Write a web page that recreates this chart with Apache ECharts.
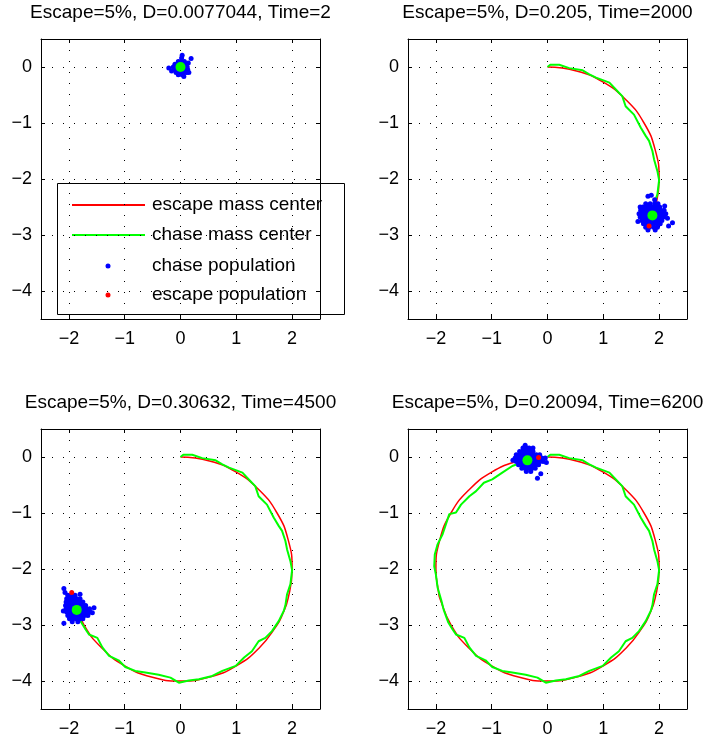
<!DOCTYPE html>
<html>
<head>
<meta charset="utf-8">
<script src="https://cdn.jsdelivr.net/npm/echarts@6/dist/echarts.min.js"></script>
<style>
html, body { margin: 0; padding: 0; background: #fff; }
#main { width: 710px; height: 741px; }
</style>
</head>
<body>
<div id="main"></div>
<script>
//子图标题
var titles = [
    'Escape=5%, D=0.0077044, Time=2',
    'Escape=5%, D=0.205, Time=2000',
    'Escape=5%, D=0.30632, Time=4500',
    'Escape=5%, D=0.20094, Time=6200'
];
var xTicks = [-2, -1, 0, 1, 2];
var yTicks = [-4, -3, -2, -1, 0];

//escape mass center 轨迹（红线）
var escapePath = [
    [0, 0], [0.52, -0.07], [1.0, -0.27], [1.41, -0.59], [1.73, -1.0], [1.93, -1.48],
    [2.0, -2.0], [1.93, -2.52], [1.82, -2.83], [1.73, -3.0], [1.41, -3.41], [1.0, -3.73],
    [0.52, -3.93], [0, -4.0], [-0.52, -3.93], [-1.0, -3.73], [-1.41, -3.41], [-1.73, -3.0],
    [-1.93, -2.52], [-1.95, -2.43], [-2.0, -2.0], [-1.93, -1.48], [-1.73, -1.0], [-1.41, -0.59],
    [-1.0, -0.27], [-0.52, -0.07], [-0.17, -0.01]
];
var escapeEnd = [1, 9, 20, 27];

//chase mass center 轨迹（绿线）
var chasePath = [
    [0, 0], [0.05, 0.04], [0.21, 0.04], [0.39, -0.02], [0.63, -0.06], [0.75, -0.13],
    [0.87, -0.19], [1.11, -0.28], [1.28, -0.46], [1.34, -0.52], [1.40, -0.70], [1.55, -0.85],
    [1.67, -1.08], [1.76, -1.23], [1.82, -1.32], [1.88, -1.50], [1.91, -1.65], [1.97, -1.86],
    [2.00, -2.02], [1.97, -2.27], [1.91, -2.45], [1.88, -2.65],
    [1.85, -2.75], [1.76, -2.93], [1.64, -3.11], [1.52, -3.23], [1.40, -3.29], [1.28, -3.47],
    [1.14, -3.58], [0.99, -3.73], [0.75, -3.82], [0.57, -3.91], [0.33, -3.97], [0.15, -3.99],
    [-0.03, -4.03], [-0.18, -3.94], [-0.39, -3.89], [-0.63, -3.85], [-0.81, -3.82], [-0.99, -3.75],
    [-1.11, -3.63], [-1.28, -3.55], [-1.40, -3.40], [-1.49, -3.23], [-1.64, -3.17], [-1.70, -3.08],
    [-1.78, -2.95], [-1.86, -2.73],
    [-1.90, -2.57], [-1.97, -2.33], [-2.00, -2.10], [-2.03, -1.95], [-2.02, -1.74], [-1.97, -1.56],
    [-1.88, -1.38], [-1.82, -1.20], [-1.76, -1.02], [-1.64, -0.99], [-1.55, -0.85], [-1.40, -0.70],
    [-1.28, -0.61], [-1.14, -0.46], [-0.99, -0.40], [-0.81, -0.28], [-0.63, -0.16], [-0.36, -0.06]
];
var chaseEnd = [1, 22, 48, 66];

//chase population（蓝点）
var chasePop1 = [
    [-0.04, 0.10], [0.02, 0.10], [0.07, 0.10],
    [-0.10, 0.05], [-0.05, 0.05], [0, 0.05], [0.05, 0.05], [0.10, 0.05],
    [-0.13, 0], [-0.08, 0], [-0.03, 0], [0.02, 0], [0.07, 0], [0.12, 0],
    [-0.11, -0.05], [-0.06, -0.05], [-0.01, -0.05], [0.04, -0.05], [0.09, -0.05], [0.13, -0.05],
    [-0.08, -0.10], [-0.03, -0.10], [0.02, -0.10], [0.07, -0.10], [0.11, -0.10],
    [-0.04, -0.14], [0.03, -0.14],
    [0.02, 0.16], [0.03, 0.21], [0.19, 0.15], [-0.21, -0.02], [0.14, 0.07],
    [-0.16, -0.07], [0.06, -0.17], [0.15, -0.10]
];
var chasePop2 = [
    [1.76, -2.44], [1.84, -2.44], [1.92, -2.44], [1.98, -2.44],
    [1.71, -2.50], [1.77, -2.50], [1.83, -2.50], [1.89, -2.50], [1.95, -2.50], [2.01, -2.50],
    [1.67, -2.56], [1.73, -2.56], [1.79, -2.56], [1.85, -2.56], [1.91, -2.56], [1.97, -2.56], [2.03, -2.56], [2.09, -2.56],
    [1.64, -2.62], [1.70, -2.62], [1.76, -2.62], [1.82, -2.62], [1.88, -2.62], [1.94, -2.62], [2.00, -2.62], [2.06, -2.62], [2.12, -2.62],
    [1.66, -2.68], [1.72, -2.68], [1.78, -2.68], [1.84, -2.68], [1.90, -2.68], [1.96, -2.68], [2.02, -2.68], [2.08, -2.68],
    [1.69, -2.74], [1.75, -2.74], [1.81, -2.74], [1.87, -2.74], [1.93, -2.74], [1.99, -2.74], [2.05, -2.74],
    [1.72, -2.80], [1.78, -2.80], [1.84, -2.80], [1.90, -2.80], [1.96, -2.80], [2.02, -2.80],
    [1.76, -2.86], [1.82, -2.86], [1.90, -2.86], [1.97, -2.86],
    [1.80, -2.91], [1.93, -2.91],
    [1.80, -2.31], [1.86, -2.29], [2.17, -2.84], [2.24, -2.78], [2.15, -2.70],
    [1.62, -2.76], [1.66, -2.50], [1.92, -2.37], [2.10, -2.48]
];
var chasePop3 = [
    [-2.02, -2.47], [-1.96, -2.47], [-1.89, -2.47],
    [-2.04, -2.53], [-1.98, -2.53], [-1.92, -2.53], [-1.86, -2.53], [-1.80, -2.53],
    [-2.05, -2.59], [-1.99, -2.59], [-1.93, -2.59], [-1.87, -2.59], [-1.81, -2.59], [-1.75, -2.59],
    [-2.06, -2.65], [-2.00, -2.65], [-1.94, -2.65], [-1.88, -2.65], [-1.82, -2.65], [-1.76, -2.65], [-1.70, -2.65],
    [-2.05, -2.71], [-1.99, -2.71], [-1.93, -2.71], [-1.87, -2.71], [-1.81, -2.71], [-1.75, -2.71], [-1.69, -2.71], [-1.63, -2.71],
    [-2.04, -2.77], [-1.98, -2.77], [-1.92, -2.77], [-1.86, -2.77], [-1.80, -2.77], [-1.74, -2.77], [-1.68, -2.77], [-1.62, -2.77],
    [-2.02, -2.83], [-1.96, -2.83], [-1.90, -2.83], [-1.84, -2.83], [-1.78, -2.83], [-1.72, -2.83], [-1.66, -2.83],
    [-1.99, -2.89], [-1.93, -2.89], [-1.87, -2.89], [-1.81, -2.89], [-1.75, -2.89],
    [-1.94, -2.94], [-1.84, -2.94],
    [-2.09, -2.35], [-2.07, -2.42], [-1.55, -2.69], [-2.09, -2.97], [-1.80, -2.45],
    [-1.58, -2.78], [-2.10, -2.75]
];
var chasePop4 = [
    [-0.44, 0.16], [-0.38, 0.16], [-0.33, 0.16],
    [-0.50, 0.10], [-0.44, 0.10], [-0.38, 0.10], [-0.32, 0.10], [-0.26, 0.10],
    [-0.56, 0.04], [-0.50, 0.04], [-0.44, 0.04], [-0.38, 0.04], [-0.32, 0.04], [-0.26, 0.04], [-0.20, 0.04], [-0.14, 0.04],
    [-0.58, -0.02], [-0.52, -0.02], [-0.46, -0.02], [-0.40, -0.02], [-0.34, -0.02], [-0.28, -0.02], [-0.22, -0.02], [-0.16, -0.02], [-0.10, -0.02], [-0.04, -0.02],
    [-0.56, -0.08], [-0.50, -0.08], [-0.44, -0.08], [-0.38, -0.08], [-0.32, -0.08], [-0.26, -0.08], [-0.20, -0.08], [-0.14, -0.08], [-0.08, -0.08],
    [-0.52, -0.14], [-0.46, -0.14], [-0.40, -0.14], [-0.34, -0.14], [-0.28, -0.14], [-0.22, -0.14], [-0.16, -0.14],
    [-0.46, -0.20], [-0.40, -0.20], [-0.34, -0.20], [-0.28, -0.20], [-0.22, -0.20],
    [-0.38, -0.26], [-0.30, -0.26],
    [-0.18, -0.38], [-0.12, -0.30], [-0.40, 0.21], [-0.62, -0.06], [-0.02, -0.10], [-0.26, 0.16]
];
var chasePops = [chasePop1, chasePop2, chasePop3, chasePop4];

//escape population（红点）
var escapePops = [[[0.01, -0.01]], [[1.82, -2.84]], [[-1.95, -2.42]], [[-0.16, -0.01]]];

var FONT = '"Liberation Sans", Arial, Helvetica, sans-serif';
var grids = [
    {left: 41, top: 39, width: 279, height: 280},
    {left: 408, top: 39, width: 279, height: 280},
    {left: 41, top: 429, width: 279, height: 280},
    {left: 408, top: 429, width: 279, height: 280}
];
var titleTop = [3, 3, 393, 393];

function minusSign(v) {
    return String(v).replace('-', '\u2212');
}

var xAxes = [], yAxes = [], series = [], titleList = [];
for (var i = 0; i < 4; i++) {
    var g = grids[i];
    titleList.push({
        text: titles[i],
        left: g.left + g.width / 2,
        top: titleTop[i],
        textAlign: 'center',
        padding: 0,
        textStyle: {fontSize: 19, fontWeight: 'normal', color: '#000', fontFamily: FONT}
    });
    //下、上 x 轴
    xAxes.push({
        gridIndex: i, type: 'value', min: -2.5, max: 2.5, position: 'bottom',
        axisLine: {show: true, onZero: false, lineStyle: {color: '#000', width: 1}},
        axisTick: {show: true, inside: true, length: 4, customValues: xTicks, lineStyle: {color: '#000'}},
        axisLabel: {show: true, customValues: xTicks, formatter: minusSign, color: '#000', fontSize: 18, margin: 11, fontFamily: FONT},
        splitLine: {show: true, lineStyle: {color: '#000', width: 1, type: [1, 10]}}
    });
    xAxes.push({
        gridIndex: i, type: 'value', min: -2.5, max: 2.5, position: 'top',
        axisLine: {show: true, onZero: false, lineStyle: {color: '#000', width: 1}},
        axisTick: {show: true, inside: true, length: 4, customValues: xTicks, lineStyle: {color: '#000'}},
        axisLabel: {show: false},
        splitLine: {show: false}
    });
    //左、右 y 轴
    yAxes.push({
        gridIndex: i, type: 'value', min: -4.5, max: 0.5, position: 'left',
        axisLine: {show: true, onZero: false, lineStyle: {color: '#000', width: 1}},
        axisTick: {show: true, inside: true, length: 4, customValues: yTicks, lineStyle: {color: '#000'}},
        axisLabel: {show: true, customValues: yTicks, formatter: minusSign, color: '#000', fontSize: 18, margin: 9, fontFamily: FONT},
        splitLine: {show: true, lineStyle: {color: '#000', width: 1, type: [1, 10]}}
    });
    yAxes.push({
        gridIndex: i, type: 'value', min: -4.5, max: 0.5, position: 'right',
        axisLine: {show: true, onZero: false, lineStyle: {color: '#000', width: 1}},
        axisTick: {show: true, inside: true, length: 4, customValues: yTicks, lineStyle: {color: '#000'}},
        axisLabel: {show: false},
        splitLine: {show: false}
    });

    series.push({
        name: 'escape mass center', type: 'line', xAxisIndex: 2 * i, yAxisIndex: 2 * i,
        data: escapePath.slice(0, escapeEnd[i]), symbol: 'none', smooth: true,
        lineStyle: {color: '#ff0000', width: 1.5}, z: 2
    });
    series.push({
        name: 'chase mass center', type: 'line', xAxisIndex: 2 * i, yAxisIndex: 2 * i,
        data: chasePath.slice(0, chaseEnd[i]), symbol: 'none',
        lineStyle: {color: '#00ff00', width: 2}, z: 3
    });
    series.push({
        name: 'chase population', type: 'scatter', xAxisIndex: 2 * i, yAxisIndex: 2 * i,
        data: chasePops[i], symbolSize: 5, itemStyle: {color: '#0000ff', opacity: 1}, z: 4
    });
    series.push({
        name: 'escape population', type: 'scatter', xAxisIndex: 2 * i, yAxisIndex: 2 * i,
        data: escapePops[i], symbolSize: 5, itemStyle: {color: '#ff0000', opacity: 1}, z: 5
    });
    series.push({
        name: 'chase center', type: 'scatter', xAxisIndex: 2 * i, yAxisIndex: 2 * i,
        data: [chasePath[chaseEnd[i] - 1]], symbolSize: 10, itemStyle: {color: '#00ff00', opacity: 1}, z: 6
    });
}

//图例（第一个子图）
var legendItems = [
    {text: 'escape mass center', color: '#ff0000', kind: 'line', width: 2},
    {text: 'chase mass center', color: '#00ff00', kind: 'line', width: 2},
    {text: 'chase population', color: '#0000ff', kind: 'dot'},
    {text: 'escape population', color: '#ff0000', kind: 'dot'}
];
var legendRowY = [22, 52, 83, 112];
var legendChildren = [{
    type: 'rect', shape: {x: 0.5, y: 0.5, width: 287, height: 131},
    style: {fill: '#fff', stroke: '#000', lineWidth: 1}
}];
legendItems.forEach(function (it, k) {
    var y = legendRowY[k];
    if (it.kind === 'line') {
        legendChildren.push({
            type: 'rect', shape: {x: 15, y: y - 1, width: 73, height: it.width},
            style: {fill: it.color, stroke: null}
        });
    } else {
        legendChildren.push({
            type: 'circle', shape: {cx: 51, cy: y, r: 2.5}, style: {fill: it.color}
        });
    }
    legendChildren.push({
        type: 'text', x: 95, y: y,
        style: {text: it.text, fill: '#000', font: '19px ' + FONT, verticalAlign: 'middle', align: 'left'}
    });
});

var option = {
    animation: false,
    backgroundColor: '#fff',
    title: titleList,
    grid: grids,
    xAxis: xAxes,
    yAxis: yAxes,
    series: series,
    graphic: [{
        type: 'group', left: 57, top: 183, z: 100,
        children: legendChildren
    }]
};

var myChart = echarts.init(document.getElementById('main'));
myChart.setOption(option);
</script>
</body>
</html>
